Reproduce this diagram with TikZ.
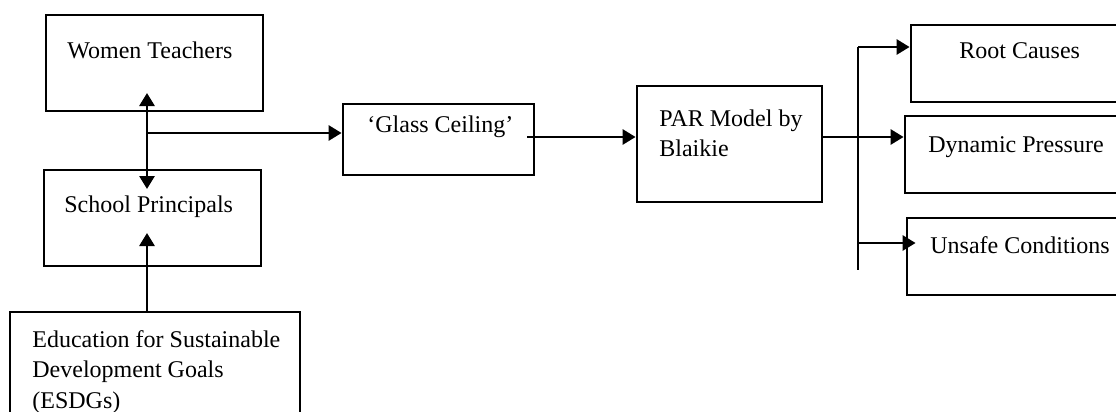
\documentclass[tikz,border=0pt]{standalone}
\usepackage{fontspec}
\setmainfont{Liberation Serif}
\usepackage{tikz}
\usetikzlibrary{arrows.meta}
\newcommand{\arw}{-{Triangle[length=6.5pt,width=7.5pt]}}
\newcommand{\darw}{{Triangle[length=6.5pt,width=7.5pt]}-{Triangle[length=6.5pt,width=7.5pt]}}

\begin{document}
\begin{tikzpicture}[x=.5pt,y=-.5pt,
  box/.style={draw,line width=1.4pt,inner sep=0pt},
  txt/.style={inner sep=0pt,font=\fontsize{12}{15.2}\selectfont,align=left},
  link/.style={line width=1.4pt}]
\useasboundingbox (0,0) rectangle (1116,412);
\clip (0,0) rectangle (1116,412);
% left column
\node[box,minimum width=217*.5pt,minimum height=96*.5pt] (wt) at (154.5,63) {};
\node[box,minimum width=217*.5pt,minimum height=96*.5pt] (sp) at (152.5,218) {};
\node[box,minimum width=290*.5pt,minimum height=118*.5pt] (esdg) at (155,371) {};
\node[txt,anchor=base west] (wtT) at (67,59) {Women Teachers};
\node[txt,anchor=base west] (spT) at (64,213) {School Principals};
\node[txt,anchor=north west] (esdgT) at (32,330) {Education for Sustainable\\Development Goals\\(ESDGs)};
% middle
\node[box,minimum width=191*.5pt,minimum height=71*.5pt] (gc) at (438.5,139.5) {};
\node[box,minimum width=185*.5pt,minimum height=116*.5pt] (par) at (729.5,144) {};
\node[txt,anchor=base west] (gcT) at (367,133) {`Glass Ceiling'};
\node[txt,anchor=north west] (parT) at (659,109) {PAR Model by\\Blaikie};
% right column
\node[box,minimum width=229*.5pt,minimum height=77*.5pt] (rc) at (1025.5,63.5) {};
\node[box,minimum width=235*.5pt,minimum height=77*.5pt] (dp) at (1022.5,154.5) {};
\node[box,minimum width=233*.5pt,minimum height=77*.5pt] (uc) at (1023.5,256.5) {};
\node[txt,anchor=base west] (rcT) at (959,59) {Root Causes};
\node[txt,anchor=base west] (dpT) at (928,152) {Dynamic Pressure};
\node[txt,anchor=base west] (ucT) at (930,253) {Unsafe Conditions};
% connectors
\coordinate (hub) at (147,133);
\coordinate (wtTip) at (147,93);
\coordinate (spTip) at (147,189);
\coordinate (spIn) at (147,233);
\coordinate (fork) at (858,137);
\coordinate (forkTop) at (858,47);
\coordinate (forkBot) at (858,270);
\coordinate (ucLev) at (858,243);
\draw[link,\darw] (spTip) -- (wtTip);
\draw[link,\arw] (hub) -- (gc.west |- hub);
\draw[link,\arw] (esdg.north -| hub) -- (spIn);
\draw[link,\arw] ([xshift=-4]gc.east |- fork) -- (par.west |- fork);
\draw[link,\arw] (par.east |- fork) -- (dp.west |- fork);
\draw[line width=.65pt] (forkTop) -- (forkBot);
\draw[link,\arw] (forkTop) -- (rc.west |- forkTop);
\draw[link,\arw] (ucLev) -- ([xshift=5]uc.west |- ucLev);
\end{tikzpicture}
\end{document}
